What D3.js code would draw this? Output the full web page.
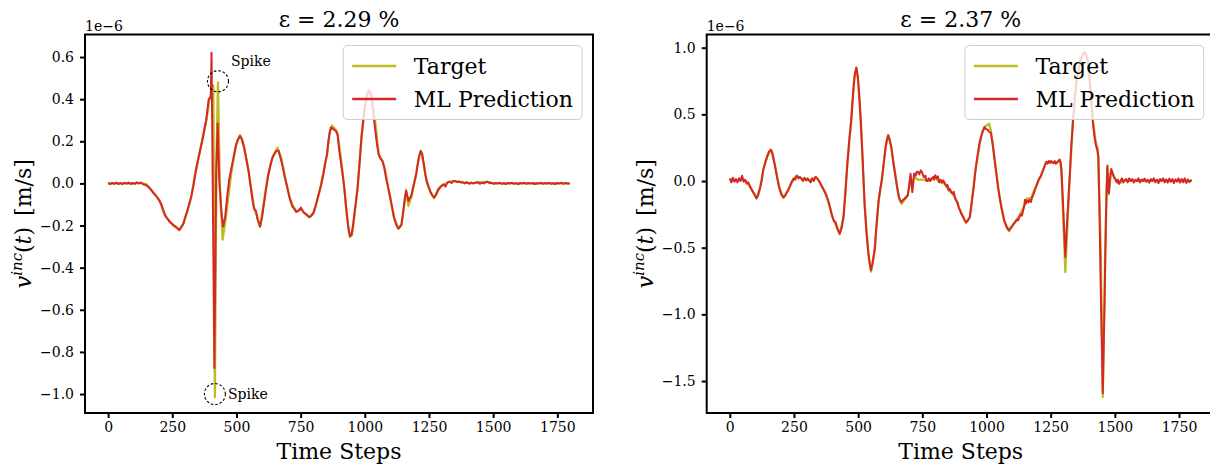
<!DOCTYPE html>
<html>
<head>
<meta charset="utf-8">
<script src="https://cdn.jsdelivr.net/npm/d3@7"></script>
<style>
  body { margin: 0; background: #fff; }
  svg { display: block; }
</style>
</head>
<body>
<svg id="chart" width="1210" height="468"></svg>
<script>
// values in units of 1e-6 m/s, [time step, value]
const xTicks = [0, 250, 500, 750, 1000, 1250, 1500, 1750];
const leftYTicks = [-1.0, -0.8, -0.6, -0.4, -0.2, 0.0, 0.2, 0.4, 0.6];
const rightYTicks = [-1.5, -1.0, -0.5, 0.0, 0.5, 1.0];
const titles = ['ε = 2.29 %', 'ε = 2.37 %'];
const legendLabels = ['Target', 'ML Prediction'];

const leftTarget = [[0,0],[50,0],[100,0],[130,0.002],[150,-0.005],[175,-0.04],[200,-0.08],[220,-0.15],[250,-0.195],[276,-0.22],[290,-0.2],[309,-0.13],[325,-0.06],[338,0.04],[361,0.17],[383,0.3],[395,0.4],[403,0.43],[410,0.465],[416,-1.015],[422,0.1],[428,0.48],[435,0.0],[446,-0.267],[460,-0.15],[480,0.05],[500,0.19],[514,0.23],[530,0.17],[547,0.06],[569,-0.12],[580,-0.155],[592,-0.205],[605,-0.1],[622,0.03],[640,0.125],[660,0.17],[675,0.12],[689,0.03],[711,-0.084],[733,-0.135],[751,-0.12],[763,-0.14],[783,-0.16],[800,-0.14],[815,-0.08],[830,-0.005],[853,0.14],[863,0.24],[872,0.275],[887,0.255],[894,0.235],[907,0.12],[920,-0.02],[932,-0.17],[942,-0.255],[950,-0.245],[960,-0.15],[972,-0.02],[987,0.22],[1000,0.36],[1017,0.44],[1025,0.43],[1040,0.3],[1054,0.14],[1069,0.105],[1080,0.06],[1091,-0.02],[1114,-0.163],[1131,-0.215],[1143,-0.195],[1153,-0.11],[1161,-0.03],[1170,-0.108],[1181,-0.065],[1200,0.043],[1210,0.12],[1218,0.155],[1230,0.09],[1241,0.011],[1255,-0.04],[1270,-0.07],[1280,-0.05],[1292,-0.02],[1307,-0.005],[1330,0.008],[1352,0.011],[1382,0.005],[1420,0.0],[1441,0.005],[1479,0.008],[1500,0.0],[1600,0.0],[1700,0.0],[1799,0.0]];

const leftPrediction = [[0,0.002],[8,-0.003],[16,0.003],[24,-0.002],[32,0.004],[40,-0.003],[48,0.002],[56,-0.004],[64,0.003],[72,-0.001],[80,0.004],[88,-0.003],[96,0.002],[104,-0.002],[112,0.005],[120,0.0],[128,0.004],[136,-0.004],[144,-0.006],[152,-0.012],[160,-0.02],[168,-0.032],[176,-0.045],[184,-0.055],[192,-0.068],[200,-0.082],[208,-0.1],[216,-0.13],[224,-0.155],[232,-0.17],[240,-0.182],[248,-0.19],[256,-0.2],[264,-0.205],[272,-0.215],[278,-0.222],[286,-0.205],[294,-0.19],[302,-0.155],[310,-0.125],[318,-0.09],[326,-0.05],[334,0.0],[342,0.06],[350,0.11],[358,0.155],[366,0.2],[374,0.25],[382,0.3],[388,0.36],[392,0.4],[397,0.405],[400,0.41],[403,0.62],[414,-0.876],[421,0.05],[427,0.285],[433,0.02],[441,-0.13],[448,-0.205],[456,-0.16],[464,-0.06],[472,0.02],[480,0.07],[488,0.12],[496,0.17],[504,0.205],[514,0.225],[522,0.21],[530,0.17],[538,0.12],[547,0.06],[556,-0.02],[564,-0.09],[569,-0.12],[576,-0.13],[582,-0.17],[592,-0.205],[600,-0.16],[608,-0.09],[616,-0.02],[624,0.04],[632,0.085],[640,0.12],[648,0.14],[656,0.155],[664,0.155],[672,0.12],[680,0.08],[689,0.027],[698,-0.02],[705,-0.06],[711,-0.084],[718,-0.11],[726,-0.122],[733,-0.135],[742,-0.13],[751,-0.115],[758,-0.13],[766,-0.142],[774,-0.148],[783,-0.16],[791,-0.155],[800,-0.14],[808,-0.11],[816,-0.07],[823,-0.04],[830,-0.005],[838,0.04],[846,0.1],[853,0.138],[858,0.2],[863,0.24],[868,0.265],[874,0.262],[880,0.255],[887,0.25],[894,0.232],[900,0.16],[907,0.1],[914,0.04],[920,-0.02],[926,-0.1],[932,-0.17],[937,-0.22],[942,-0.25],[948,-0.245],[954,-0.2],[960,-0.14],[966,-0.08],[972,-0.02],[980,0.1],[987,0.217],[994,0.3],[1002,0.38],[1010,0.43],[1017,0.443],[1024,0.42],[1032,0.35],[1040,0.26],[1047,0.19],[1054,0.138],[1060,0.12],[1069,0.106],[1075,0.08],[1082,0.03],[1091,-0.02],[1098,-0.06],[1106,-0.11],[1114,-0.163],[1122,-0.195],[1131,-0.214],[1138,-0.205],[1143,-0.195],[1150,-0.13],[1156,-0.07],[1161,-0.036],[1166,-0.06],[1170,-0.084],[1175,-0.07],[1181,-0.06],[1188,-0.02],[1194,0.01],[1200,0.043],[1206,0.09],[1212,0.13],[1218,0.154],[1224,0.14],[1230,0.09],[1236,0.04],[1241,0.011],[1248,-0.015],[1255,-0.037],[1262,-0.055],[1270,-0.068],[1278,-0.05],[1285,-0.03],[1292,-0.02],[1300,-0.01],[1307,-0.005],[1314,-0.015],[1322,0.004],[1330,0.008],[1338,0.002],[1345,0.012],[1352,0.011],[1360,0.006],[1368,0.009],[1376,0.004],[1382,0.005],[1390,0.0],[1398,0.006],[1406,-0.002],[1414,0.004],[1422,0.0],[1430,0.003],[1441,0.006],[1448,-0.002],[1456,0.003],[1464,0.0],[1472,0.006],[1479,0.008],[1486,0.001],[1494,0.003],[1502,-0.002],[1510,0.002],[1518,0.0],[1526,0.003],[1534,-0.002],[1542,0.001],[1550,-0.003],[1558,0.002],[1566,0.0],[1574,0.003],[1582,-0.002],[1590,0.001],[1598,-0.003],[1606,0.002],[1614,0.0],[1622,0.003],[1630,-0.002],[1638,0.002],[1646,-0.001],[1654,0.002],[1662,-0.003],[1670,0.001],[1678,0.0],[1686,0.003],[1694,-0.002],[1702,0.002],[1710,-0.001],[1718,0.003],[1726,-0.002],[1734,0.001],[1742,-0.003],[1750,0.002],[1758,0.0],[1766,0.003],[1774,-0.002],[1782,0.002],[1790,-0.001],[1799,0.0]];

const rightTarget = [[0,0.01],[30,0.0],[48,0.02],[70,-0.02],[90,-0.08],[104,-0.13],[118,-0.05],[130,0.08],[145,0.18],[160,0.235],[170,0.17],[177,0.105],[192,-0.045],[209,-0.125],[227,-0.07],[249,0.018],[261,0.04],[279,0.018],[309,0.005],[338,0.025],[350,-0.008],[376,-0.108],[398,-0.258],[415,-0.34],[428,-0.4],[443,-0.27],[458,0.13],[473,0.455],[485,0.78],[493,0.85],[500,0.75],[510,0.455],[525,-0.17],[540,-0.545],[550,-0.68],[562,-0.545],[569,-0.395],[580,-0.15],[592,0.005],[607,0.255],[617,0.345],[629,0.255],[644,0.055],[659,-0.13],[669,-0.17],[681,-0.14],[693,-0.11],[704,0.03],[711,-0.06],[718,0.03],[733,0.01],[744,0.01],[756,0.01],[771,0.0],[786,0.01],[800,0.03],[815,-0.008],[838,-0.02],[853,-0.07],[868,-0.095],[882,-0.145],[897,-0.22],[920,-0.315],[935,-0.275],[957,0.08],[979,0.34],[995,0.41],[1010,0.43],[1017,0.38],[1032,0.155],[1051,-0.12],[1069,-0.3],[1088,-0.375],[1106,-0.32],[1128,-0.26],[1143,-0.2],[1158,-0.13],[1173,-0.13],[1188,-0.06],[1210,0.03],[1233,0.143],[1255,0.143],[1270,0.13],[1285,0.16],[1292,0.08],[1307,-0.683],[1322,-0.045],[1337,0.455],[1350,0.75],[1365,0.9],[1382,0.97],[1395,0.92],[1405,0.7],[1415,0.45],[1425,0.3],[1434,0.23],[1445,-0.5],[1453,-1.62],[1462,-0.6],[1468,-0.095],[1471,0.118],[1476,-0.1],[1486,0.08],[1501,0.018],[1516,-0.02],[1538,0.005],[1600,0.0],[1700,0.005],[1799,0.0]];

const rightPrediction = [[0,0.02],[6,-0.01],[12,0.025],[18,-0.005],[24,0.015],[30,-0.01],[36,0.02],[42,0.0],[48,0.04],[54,-0.005],[60,0.01],[66,-0.02],[72,-0.01],[78,-0.035],[84,-0.06],[90,-0.08],[96,-0.1],[104,-0.13],[110,-0.11],[118,-0.05],[124,0.0],[130,0.08],[138,0.14],[145,0.18],[152,0.22],[160,0.235],[166,0.21],[172,0.15],[177,0.105],[184,0.03],[192,-0.045],[200,-0.1],[209,-0.125],[216,-0.11],[222,-0.085],[227,-0.07],[234,-0.04],[240,-0.01],[249,0.018],[255,0.01],[261,0.04],[267,0.02],[273,0.03],[279,0.018],[285,0.0],[291,0.025],[297,0.005],[303,0.02],[309,0.005],[315,-0.01],[321,0.02],[327,0.0],[333,0.03],[338,0.025],[344,0.01],[350,-0.008],[356,-0.03],[362,-0.05],[370,-0.08],[376,-0.108],[384,-0.15],[391,-0.2],[398,-0.258],[405,-0.3],[412,-0.31],[420,-0.36],[428,-0.395],[436,-0.35],[443,-0.27],[450,-0.1],[458,0.13],[465,0.3],[473,0.455],[480,0.65],[487,0.8],[493,0.85],[499,0.78],[505,0.62],[510,0.455],[518,0.15],[525,-0.17],[532,-0.38],[540,-0.545],[545,-0.62],[550,-0.67],[556,-0.62],[562,-0.545],[566,-0.5],[569,-0.395],[575,-0.25],[580,-0.14],[586,-0.06],[592,0.005],[600,0.14],[607,0.255],[612,0.31],[617,0.343],[623,0.31],[629,0.255],[636,0.15],[644,0.055],[651,-0.04],[659,-0.12],[664,-0.145],[669,-0.158],[675,-0.14],[681,-0.133],[687,-0.12],[693,-0.108],[698,-0.05],[704,0.055],[708,-0.02],[711,-0.083],[715,0.0],[718,0.055],[724,0.04],[728,0.07],[733,0.068],[738,0.05],[744,0.08],[750,0.06],[756,0.03],[762,0.04],[766,0.0],[771,0.005],[776,0.02],[781,0.0],[786,0.018],[792,0.03],[796,0.01],[800,0.043],[806,0.02],[811,0.035],[815,-0.008],[821,0.01],[826,-0.01],[832,0.005],[838,-0.02],[844,-0.04],[848,-0.03],[853,-0.07],[858,-0.06],[863,-0.085],[868,-0.095],[872,-0.08],[877,-0.12],[882,-0.145],[887,-0.16],[892,-0.2],[897,-0.22],[903,-0.25],[908,-0.265],[914,-0.29],[920,-0.308],[926,-0.3],[930,-0.285],[935,-0.27],[942,-0.17],[950,-0.05],[957,0.08],[965,0.19],[972,0.28],[979,0.33],[986,0.38],[992,0.405],[998,0.39],[1004,0.385],[1010,0.37],[1017,0.36],[1024,0.28],[1032,0.155],[1040,0.03],[1045,-0.05],[1051,-0.12],[1058,-0.2],[1064,-0.25],[1069,-0.295],[1075,-0.33],[1082,-0.36],[1088,-0.37],[1094,-0.35],[1100,-0.34],[1106,-0.32],[1112,-0.31],[1118,-0.29],[1123,-0.295],[1128,-0.27],[1134,-0.25],[1138,-0.26],[1143,-0.22],[1147,-0.19],[1150,-0.14],[1153,-0.17],[1158,-0.145],[1163,-0.16],[1168,-0.14],[1173,-0.158],[1178,-0.12],[1183,-0.1],[1188,-0.07],[1194,-0.04],[1199,-0.01],[1205,0.02],[1210,0.03],[1216,0.06],[1222,0.09],[1228,0.12],[1233,0.143],[1238,0.13],[1243,0.15],[1248,0.135],[1252,0.15],[1257,0.14],[1262,0.135],[1266,0.15],[1270,0.13],[1275,0.14],[1280,0.15],[1285,0.16],[1289,0.14],[1292,0.08],[1300,-0.25],[1307,-0.57],[1314,-0.3],[1322,-0.045],[1330,0.25],[1337,0.455],[1344,0.62],[1352,0.76],[1360,0.85],[1368,0.92],[1375,0.95],[1382,0.96],[1388,0.95],[1394,0.9],[1400,0.8],[1407,0.62],[1414,0.45],[1420,0.34],[1426,0.27],[1432,0.23],[1436,0.18],[1440,-0.2],[1445,-0.8],[1453,-1.59],[1460,-0.9],[1465,-0.3],[1468,-0.05],[1471,0.11],[1474,-0.05],[1477,-0.09],[1481,0.02],[1486,0.09],[1491,0.06],[1496,0.03],[1501,0.018],[1507,-0.01],[1512,0.01],[1516,-0.02],[1522,0.0],[1528,0.02],[1533,-0.01],[1538,0.005],[1544,0.015],[1550,-0.01],[1556,0.02],[1562,0.0],[1568,0.015],[1574,-0.012],[1580,0.01],[1586,0.0],[1592,0.02],[1598,-0.01],[1604,0.012],[1610,0.0],[1616,0.018],[1622,-0.005],[1628,0.01],[1634,-0.012],[1640,0.015],[1646,0.0],[1652,0.02],[1658,-0.01],[1664,0.01],[1670,-0.015],[1676,0.015],[1682,0.0],[1688,0.02],[1694,-0.01],[1700,0.012],[1706,-0.012],[1712,0.018],[1718,-0.005],[1724,0.015],[1730,-0.015],[1736,0.012],[1742,-0.005],[1748,0.02],[1754,-0.012],[1760,0.015],[1766,-0.01],[1772,0.02],[1778,-0.015],[1784,0.012],[1790,-0.008],[1799,0.01]];

// spike markers on the left panel: [time step, value]
const leftSpikes = [[428, 0.485], [416, -1.0]];

const colors = { target: '#bcbd22', prediction: '#d62728' };
const serif = '"DejaVu Serif", "Liberation Serif", serif';
const svg = d3.select('#chart').attr('font-family', serif);
const fmt = (d) => d3.format('.1f')(d).replace('-', '\u2212');

const axTop = 34.5;
const axBottom = 413;
const axWidth = 508;

function drawPanel(idx, x0, yDomain, yTicks, target, prediction, spikes) {
  const x = d3.scaleLinear().domain([-90, 1889]).range([x0, x0 + axWidth]);
  const y = d3.scaleLinear().domain(yDomain).range([axBottom, axTop]);
  const g = svg.append('g').attr('font-family', serif);

  g.append('clipPath')
   .attr('id', 'clip' + idx)
   .append('rect')
   .attr('x', x0).attr('y', axTop)
   .attr('width', axWidth).attr('height', axBottom - axTop);

  const line = d3.line()
                 .x((d) => x(d[0]))
                 .y((d) => y(d[1]));

  const plot = g.append('g').attr('clip-path', `url(#clip${idx})`);
  plot.append('path')
      .datum(target)
      .attr('d', line)
      .attr('fill', 'none')
      .attr('stroke', colors.target)
      .attr('stroke-width', 2.3)
      .attr('stroke-linejoin', 'round');
  plot.append('path')
      .datum(prediction)
      .attr('d', line)
      .attr('fill', 'none')
      .attr('stroke', colors.prediction)
      .attr('stroke-width', 2)
      .attr('stroke-linejoin', 'round');

  // axes
  const xAxis = g.append('g')
                 .attr('transform', `translate(0,${axBottom})`)
                 .call(d3.axisBottom(x).tickValues(xTicks).tickSize(5).tickPadding(4).tickFormat(d3.format('d')));
  const yAxis = g.append('g')
                 .attr('transform', `translate(${x0},0)`)
                 .call(d3.axisLeft(y).tickValues(yTicks).tickSize(5).tickPadding(6).tickFormat(fmt));
  [xAxis, yAxis].forEach((a) => {
    a.attr('font-family', serif);
    a.select('.domain').remove();
    a.selectAll('line').attr('stroke', '#000').attr('stroke-width', 2);
    a.selectAll('text')
     .attr('fill', '#000')
     .attr('font-size', 14);
  });

  g.append('rect')
   .attr('x', x0).attr('y', axTop)
   .attr('width', axWidth).attr('height', axBottom - axTop)
   .attr('fill', 'none')
   .attr('stroke', '#000')
   .attr('stroke-width', 2);

  // offset text, title, labels
  g.append('text')
   .attr('x', x0).attr('y', 31)
   .attr('font-size', 14)
   .text('1e\u22126');

  g.append('text')
   .attr('x', x0 + axWidth / 2).attr('y', 26.5)
   .attr('text-anchor', 'middle')
   .attr('font-size', 22)
   .text(titles[idx]);

  g.append('text')
   .attr('x', x0 + axWidth / 2).attr('y', 459)
   .attr('text-anchor', 'middle')
   .attr('font-size', 22)
   .text('Time Steps');

  const ylab = g.append('text')
                .attr('transform', `translate(${x0 - 54},${(axTop + axBottom) / 2}) rotate(-90)`)
                .attr('text-anchor', 'middle')
                .attr('font-size', 22);
  ylab.append('tspan').attr('font-style', 'italic').text('v');
  ylab.append('tspan').attr('font-style', 'italic').attr('font-size', 15).attr('dy', -9).text('inc');
  ylab.append('tspan').attr('dy', 9).text('(');
  ylab.append('tspan').attr('font-style', 'italic').text('t');
  ylab.append('tspan').text(')\u2002[m/s]');

  // spike markers
  spikes.forEach((s) => {
    g.append('circle')
     .attr('cx', x(s[0])).attr('cy', y(s[1]))
     .attr('r', 10.5)
     .attr('fill', 'none')
     .attr('stroke', '#000')
     .attr('stroke-width', 1.1)
     .attr('stroke-dasharray', '2.5,2');
    g.append('text')
     .attr('x', x(s[0]) + 13).attr('y', y(s[1]) + (s[1] > 0 ? -15 : 5))
     .attr('font-size', 14)
     .text('Spike');
  });

  // legend
  const leg = g.append('g');
  const box = leg.append('rect');
  const right = x0 + axWidth - 11;
  const rows = [66, 99];
  const texts = legendLabels.map((lab, i) => leg.append('text')
                                                 .attr('y', rows[i] + 8)
                                                 .attr('font-size', 22)
                                                 .text(lab));
  const textW = d3.max(texts, (t) => t.node().getComputedTextLength());
  const left = right - (9 + 44 + 17.6 + textW + 9);
  texts.forEach((t) => t.attr('x', left + 9 + 44 + 17.6));
  box.attr('x', left).attr('y', axTop + 11)
     .attr('width', right - left).attr('height', 74)
     .attr('rx', 4.4)
     .attr('fill', 'rgba(255,255,255,0.8)')
     .attr('stroke', '#cccccc')
     .attr('stroke-width', 1);
  [colors.target, colors.prediction].forEach((c, i) => {
    leg.append('line')
       .attr('x1', left + 9).attr('x2', left + 53)
       .attr('y1', rows[i]).attr('y2', rows[i])
       .attr('stroke', c)
       .attr('stroke-width', 2.3);
  });
}

svg.append('rect').attr('width', 1210).attr('height', 468).attr('fill', '#fff');
drawPanel(0, 85, [-1.090, 0.707], leftYTicks, leftTarget, leftPrediction, leftSpikes);
drawPanel(1, 706.7, [-1.740, 1.099], rightYTicks, rightTarget, rightPrediction, []);
</script>
</body>
</html>
